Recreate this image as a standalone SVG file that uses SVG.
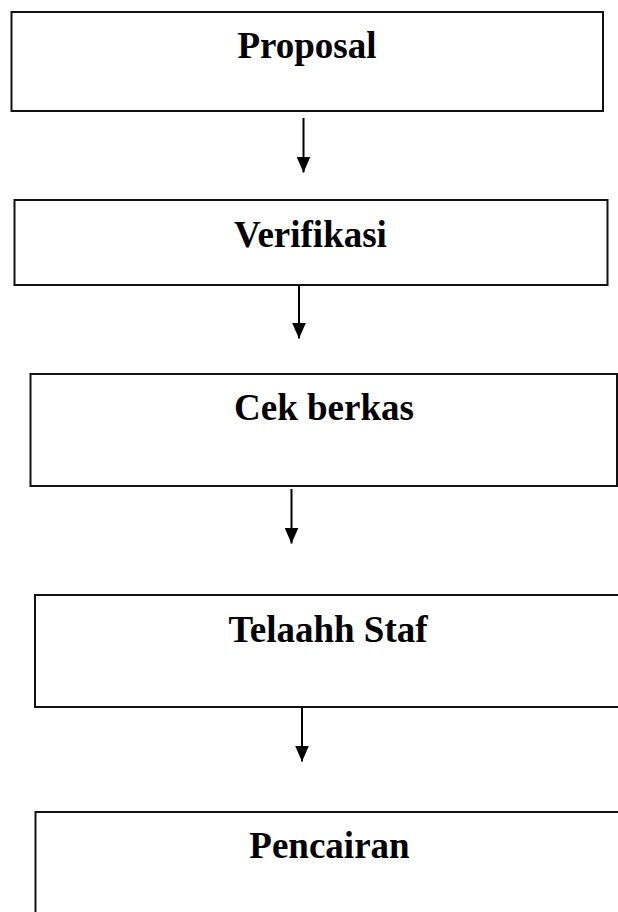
<svg xmlns="http://www.w3.org/2000/svg" width="618" height="912" viewBox="0 0 618 912">
<defs>
<style>
.box{fill:#fff;stroke:#111;stroke-width:2}
.lbl{font-family:"Liberation Serif","Times New Roman",serif;font-weight:bold;font-size:37px;fill:#000;text-anchor:middle}
.con{stroke:#000;stroke-width:2;fill:none;marker-end:url(#ah)}
</style>
<marker id="ah" markerUnits="userSpaceOnUse" markerWidth="16" markerHeight="14" refX="16" refY="7" orient="auto" viewBox="0 0 16 14">
<path d="M0,0 L16,7 L0,14 Z" fill="#000"/>
</marker>
</defs>
<rect width="618" height="912" fill="#fff"/>
<g id="node-proposal">
<rect class="box" x="11.5" y="12" width="591.5" height="99"/>
<text class="lbl" x="307" y="58">Proposal</text>
</g>
<g id="node-verifikasi">
<rect class="box" x="14.5" y="200" width="593" height="85"/>
<text class="lbl" x="310.5" y="247">Verifikasi</text>
</g>
<g id="node-cek">
<rect class="box" x="30.5" y="374" width="586.5" height="112"/>
<text class="lbl" x="324" y="420">Cek berkas</text>
</g>
<g id="node-telaah">
<rect class="box" x="35" y="595" width="600" height="112"/>
<text class="lbl" x="328" y="642">Telaahh Staf</text>
</g>
<g id="node-pencairan">
<rect class="box" x="35.5" y="812" width="600" height="120"/>
<text class="lbl" x="329.5" y="858">Pencairan</text>
</g>
<g id="connectors">
<line class="con" x1="303.5" y1="118" x2="303.5" y2="172.5"/>
<line class="con" x1="299" y1="285" x2="299" y2="338.5"/>
<line class="con" x1="291.5" y1="489" x2="291.5" y2="543.5"/>
<line class="con" x1="302" y1="707" x2="302" y2="761.5"/>
</g>
</svg>
